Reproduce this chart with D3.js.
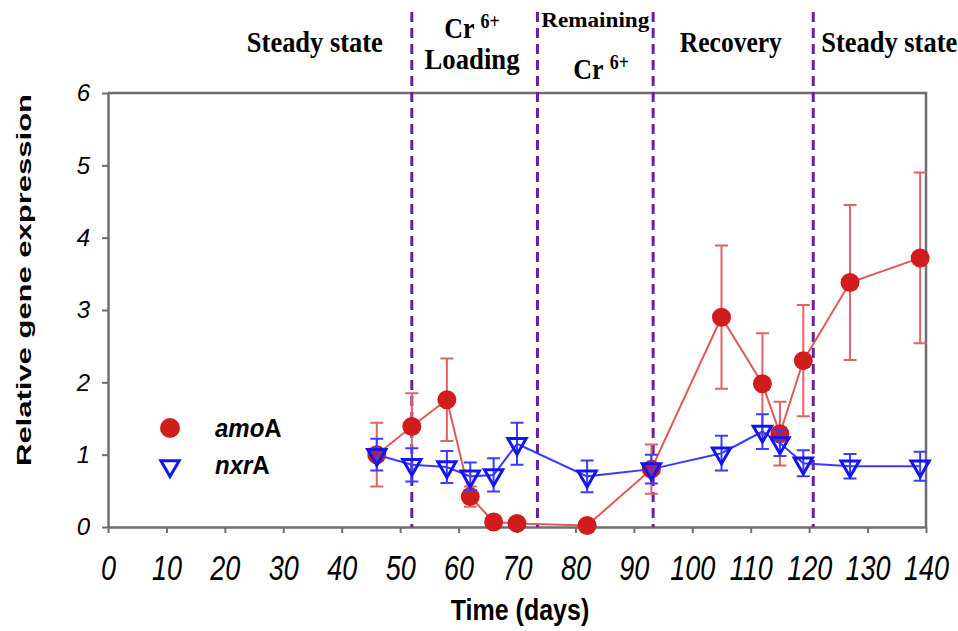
<!DOCTYPE html>
<html>
<head>
<meta charset="utf-8">
<script src="https://cdn.jsdelivr.net/npm/d3@7"></script>
<style>
  body { margin: 0; background: #fff; }
  svg { display: block; }
</style>
</head>
<body>
<div id="chart"></div>
<script>
// sampling days and values
const days = [46, 52, 58, 62, 66, 70, 82, 93, 105, 112, 115, 119, 127, 139];
const amoA = [1.0, 1.39, 1.76, 0.42, 0.07, 0.05, 0.02, 0.80, 2.90, 1.98, 1.29, 2.30, 3.38, 3.72];
const amoAErr = [0.44, 0.46, 0.57, 0.14, 0, 0, 0, 0.34, 0.99, 0.70, 0.44, 0.77, 1.07, 1.18];
const nxrA = [1.0, 0.86, 0.83, 0.70, 0.72, 1.15, 0.70, 0.80, 1.02, 1.32, 1.16, 0.88, 0.84, 0.84];
const nxrAErr = [0.22, 0.23, 0.22, 0.19, 0.23, 0.29, 0.22, 0.20, 0.24, 0.24, 0.18, 0.18, 0.17, 0.20];

// phase boundaries (days) and phase labels
const boundaries = [52, 73.5, 93.3, 120.7];
const phases = ["Steady state", "Cr 6+ Loading", "Remaining Cr 6+", "Recovery", "Steady state"];
const phaseCenters = [35.4, 62.3, 83.4, 106.6, 133.7];

const xTicks = d3.range(0, 141, 10);
const yTicks = [0, 1, 2, 3, 4, 5, 6];

const W = 958, H = 631;
const margin = { top: 93, right: 32, bottom: 104, left: 108 };
const width = W - margin.left - margin.right,
  height = H - margin.top - margin.bottom;

const svg = d3.select("#chart")
  .append("svg")
  .attr("width", W)
  .attr("height", H);

const g = svg.append("g")
  .attr("transform", `translate(${margin.left},${margin.top})`);

const x = d3.scaleLinear().domain([0, 140]).range([0, width]);
const y = d3.scaleLinear().domain([0, 6]).range([height, 0]);

const axisColor = "#6e6e6e";
const sans = "'Liberation Sans', Arial, sans-serif";

// frame (top / right)
g.append("path")
  .attr("d", `M0,0H${width}V${height}`)
  .attr("fill", "none")
  .attr("stroke", axisColor)
  .attr("stroke-width", 2.5);

// axes
const xAxis = g.append("g")
  .attr("transform", `translate(0,${height})`)
  .call(d3.axisBottom(x).tickValues(xTicks).tickSize(6).tickSizeOuter(0));
const yAxis = g.append("g")
  .call(d3.axisLeft(y).tickValues(yTicks).tickFormat(d3.format("d")).tickSize(6).tickPadding(12).tickSizeOuter(0));

[xAxis, yAxis].forEach(a => {
  a.select(".domain").attr("stroke", axisColor).attr("stroke-width", 2.5);
  a.selectAll(".tick line").attr("stroke", axisColor).attr("stroke-width", 2);
});
// x labels are tall and narrow in the original
xAxis.selectAll("text")
  .attr("y", 0).attr("dy", 0)
  .attr("transform", "translate(0,53) scale(1,1.3)")
  .style("font-family", sans)
  .style("font-style", "italic")
  .style("font-size", "27px")
  .attr("fill", "#000");
yAxis.selectAll("text")
  .style("font-family", sans)
  .style("font-style", "italic")
  .style("font-size", "24px")
  .attr("fill", "#000");

// axis titles
svg.append("text")
  .attr("transform", "translate(520,620) scale(1,1.15)")
  .attr("text-anchor", "middle")
  .style("font-family", sans)
  .style("font-weight", "bold")
  .style("font-size", "25px")
  .text("Time (days)");

svg.append("text")
  .attr("transform", `translate(31,280) rotate(-90)`)
  .attr("text-anchor", "middle")
  .style("font-family", sans)
  .style("font-weight", "bold")
  .style("font-size", "21px")
  .attr("textLength", 372)
  .attr("lengthAdjust", "spacingAndGlyphs")
  .text("Relative gene expression");

// phase boundaries
g.selectAll(".boundary")
  .data(boundaries)
  .join("line")
  .attr("class", "boundary")
  .attr("x1", d => x(d)).attr("x2", d => x(d))
  .attr("y1", 12 - margin.top).attr("y2", height)
  .attr("stroke", "#6b1f9a")
  .attr("stroke-width", 3)
  .attr("stroke-dasharray", "10,6");

// phase labels
const serif = "'Liberation Serif', 'Times New Roman', serif";
function phaseText(px, py, size, len) {
  return svg.append("text")
    .attr("transform", `translate(${margin.left + x(px)},${py}) scale(1,1.15)`)
    .attr("text-anchor", "middle")
    .style("font-family", serif)
    .style("font-weight", "bold")
    .style("font-size", size + "px")
    .attr("textLength", len)
    .attr("lengthAdjust", "spacingAndGlyphs");
}
phaseText(phaseCenters[0], 52, 26, 136).text(phases[0]);
phaseText(phaseCenters[3], 52, 26, 102).text(phases[3]);
phaseText(phaseCenters[4], 52, 26, 136).text(phases[4]);

// "Cr 6+ / Loading"
const cr1 = phaseText(phaseCenters[1], 38, 26);
cr1.append("tspan").text("Cr ");
cr1.append("tspan").attr("dy", -9).style("font-size", "18px").text("6+");
phaseText(phaseCenters[1], 69, 26, 95).text("Loading");

// "Remaining / Cr 6+"
phaseText(phaseCenters[2], 27, 18, 108).text("Remaining");
const cr2 = phaseText(phaseCenters[2] + 1, 79, 26);
cr2.append("tspan").text("Cr ");
cr2.append("tspan").attr("dy", -9).style("font-size", "18px").text("6+");

// series data
const amoData = days.map((d, i) => ({ day: d, v: amoA[i], e: amoAErr[i] }));
const nxrData = days.map((d, i) => ({ day: d, v: nxrA[i], e: nxrAErr[i] }));

const line = d3.line().x(d => x(d.day)).y(d => y(d.v));

function errorBars(data, color) {
  const eb = g.append("g").attr("stroke", color).attr("stroke-width", 2).attr("fill", "none");
  data.filter(d => d.e > 0).forEach(d => {
    const cx = x(d.day), y0 = y(d.v - d.e), y1 = y(d.v + d.e);
    eb.append("path")
      .attr("d", `M${cx},${y0}V${y1}M${cx - 6.5},${y0}H${cx + 6.5}M${cx - 6.5},${y1}H${cx + 6.5}`);
  });
}

// amoA (red)
errorBars(amoData, "#e06464");
g.append("path")
  .datum(amoData)
  .attr("d", line)
  .attr("fill", "none")
  .attr("stroke", "#e05a57")
  .attr("stroke-width", 2);
g.selectAll(".amo")
  .data(amoData)
  .join("circle")
  .attr("class", "amo")
  .attr("cx", d => x(d.day))
  .attr("cy", d => y(d.v))
  .attr("r", 9.5)
  .attr("fill", "#d01c1c");

// nxrA (blue)
const tri = d3.symbol().type(d3.symbolTriangle).size(145);
g.append("path")
  .datum(nxrData)
  .attr("d", line)
  .attr("fill", "none")
  .attr("stroke", "#3a3aff")
  .attr("stroke-width", 2);
errorBars(nxrData, "#3c3cff");
g.selectAll(".nxr")
  .data(nxrData)
  .join("path")
  .attr("class", "nxr")
  .attr("d", tri)
  .attr("transform", d => `translate(${x(d.day)},${y(d.v)}) rotate(180)`)
  .attr("fill", "none")
  .attr("stroke", "#1414f0")
  .attr("stroke-width", 3);

// legend
const legend = svg.append("g");
legend.append("circle").attr("cx", 170).attr("cy", 428).attr("r", 10).attr("fill", "#d01c1c");
legend.append("path").attr("d", tri)
  .attr("transform", "translate(170,466) rotate(180)")
  .attr("fill", "none").attr("stroke", "#1414f0").attr("stroke-width", 3);
const legendNames = [["amo", "A", 437], ["nxr", "A", 474]];
legendNames.forEach(([it, up, by]) => {
  const t = legend.append("text")
    .attr("transform", `translate(215,${by}) scale(1,1.1)`)
    .style("font-family", sans)
    .style("font-weight", "bold")
    .style("font-size", "24px");
  t.append("tspan").style("font-style", "italic").text(it);
  t.append("tspan").text(up);
});
</script>
</body>
</html>
